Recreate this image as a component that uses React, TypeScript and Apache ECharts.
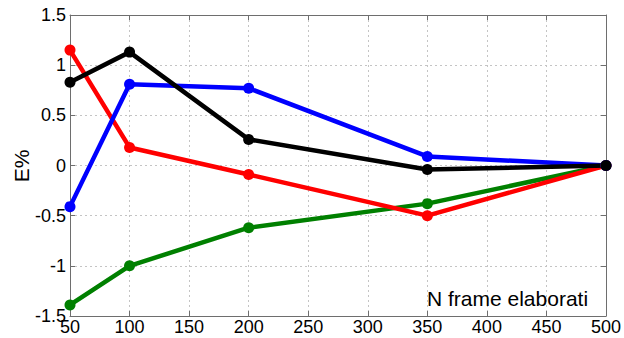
import React, { useEffect, useRef } from "react";
import * as echarts from "echarts";

const xValues = [50, 100, 200, 350, 500];
const redSeries = [1.15, 0.18, -0.09, -0.5, 0];
const blueSeries = [-0.41, 0.81, 0.77, 0.09, 0];
const blackSeries = [0.83, 1.13, 0.26, -0.04, 0];
const greenSeries = [-1.39, -1.0, -0.62, -0.38, 0];
const xLabel = "N frame elaborati";
const yLabel = "E%";

const FONT = "'Liberation Sans', Arial, sans-serif";

export default function App() {
  const ref = useRef<HTMLDivElement>(null);
  useEffect(() => {
    if (!ref.current) return;
    const chart = echarts.init(ref.current, undefined, { renderer: "svg" });
    const mk = (name: string, data: number[], color: string) => ({
      name,
      type: "line",
      data: xValues.map((x, i) => [x, data[i]]),
      lineStyle: { color, width: 4.5 },
      itemStyle: { color },
      symbol: "circle",
      symbolSize: 11,
      showSymbol: true,
    });
    const axisLine = { show: true, onZero: false, lineStyle: { color: "#6e6e6e", width: 1 } };
    chart.setOption({
      animation: false,
      backgroundColor: "#ffffff",
      grid: { left: 70, right: 16, top: 15, bottom: 22 },
      xAxis: [
        {
          type: "value",
          min: 50,
          max: 500,
          interval: 50,
          axisLine,
          axisTick: { show: true, inside: true, length: 5, lineStyle: { color: "#6e6e6e" } },
          axisLabel: { color: "#000", fontSize: 18, fontFamily: FONT, margin: 2 },
          splitLine: { show: true, lineStyle: { color: "#c4c4c4", type: [2, 3], width: 1 } },
        },
        {
          type: "value",
          position: "top",
          min: 50,
          max: 500,
          interval: 50,
          axisLine,
          axisTick: { show: true, inside: true, length: 5, lineStyle: { color: "#6e6e6e" } },
          axisLabel: { show: false },
          splitLine: { show: false },
        },
      ],
      yAxis: [
        {
          type: "value",
          min: -1.5,
          max: 1.5,
          interval: 0.5,
          axisLine,
          axisTick: { show: true, inside: true, length: 5, lineStyle: { color: "#6e6e6e" } },
          axisLabel: { color: "#000", fontSize: 18, fontFamily: FONT, margin: 4 },
          splitLine: { show: true, lineStyle: { color: "#c4c4c4", type: [2, 3], width: 1 } },
        },
        {
          type: "value",
          position: "right",
          min: -1.5,
          max: 1.5,
          interval: 0.5,
          axisLine,
          axisTick: { show: true, inside: true, length: 5, lineStyle: { color: "#6e6e6e" } },
          axisLabel: { show: false },
          splitLine: { show: false },
        },
      ],
      series: [
        mk("green", greenSeries, "#008000"),
        mk("red", redSeries, "#ff0000"),
        mk("blue", blueSeries, "#0000ff"),
        mk("black", blackSeries, "#000000"),
      ],
      graphic: [
        {
          type: "text",
          x: 427,
          y: 298,
          style: {
            text: xLabel,
            fontSize: 21,
            fontFamily: FONT,
            fill: "#000",
            verticalAlign: "middle",
            align: "left",
          },
          z: 100,
        },
        {
          type: "text",
          x: 21,
          y: 166,
          rotation: Math.PI / 2,
          style: {
            text: yLabel,
            fontSize: 21,
            fontFamily: FONT,
            fill: "#000",
            verticalAlign: "middle",
            align: "center",
          },
        },
      ],
    });
    return () => chart.dispose();
  }, []);
  return <div ref={ref} style={{ width: 624, height: 338, position: "absolute", left: 0, top: 0 }} />;
}
